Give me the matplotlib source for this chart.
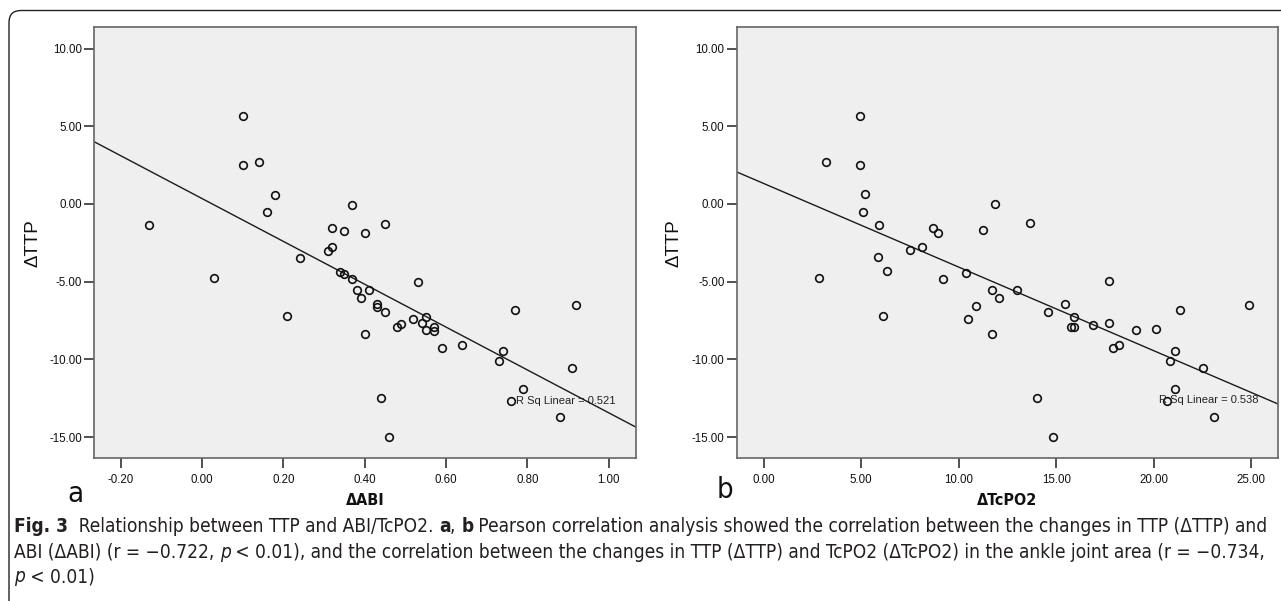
import numpy as np
import matplotlib
matplotlib.use('Agg')
import matplotlib.pyplot as plt
from matplotlib.patches import FancyBboxPatch
from matplotlib.transforms import IdentityTransform
from matplotlib.ticker import FormatStrFormatter

# panel a: change in ABI vs change in TTP
d_abi = [-0.13, 0.10, 0.10, 0.14, 0.18, 0.16, 0.37, 0.45, 0.32, 0.35, 0.40, 0.32,
         0.31, 0.24, 0.03, 0.34, 0.35, 0.37, 0.53, 0.38, 0.41, 0.39, 0.43, 0.43,
         0.45, 0.21, 0.52, 0.55, 0.54, 0.57, 0.49, 0.48, 0.55, 0.57, 0.40, 0.59,
         0.64, 0.74, 0.73, 0.77, 0.92, 0.91, 0.79, 0.44, 0.76, 0.88, 0.46]
d_ttp_a = [-1.37, 5.67, 2.51, 2.68, 0.60, -0.54, -0.06, -1.27, -1.55, -1.72, -1.89, -2.77,
           -3.00, -3.45, -4.76, -4.36, -4.51, -4.83, -5.00, -5.54, -5.51, -6.05, -6.46, -6.61,
           -6.95, -7.19, -7.38, -7.30, -7.68, -7.90, -7.73, -7.90, -8.09, -8.18, -8.35, -9.29,
           -9.10, -9.46, -10.11, -6.82, -6.48, -10.58, -11.93, -12.51, -12.68, -13.69, -15.00]

# panel b: change in TcPO2 vs change in TTP
d_tcpo2 = [4.92, 3.20, 4.96, 5.17, 5.09, 5.90, 11.87, 13.67, 8.69, 8.94, 11.26, 7.50,
           8.14, 5.86, 6.30, 2.85, 9.21, 10.39, 17.71, 11.70, 12.98, 12.04, 10.89, 14.59,
           6.13, 10.47, 15.47, 15.89, 15.75, 15.89, 16.86, 17.71, 19.10, 20.12, 11.70, 17.92,
           18.22, 21.11, 20.85, 21.36, 24.90, 22.51, 21.11, 14.01, 20.69, 23.10, 14.85]
d_ttp_b = [5.69, 2.70, 2.53, 0.62, -0.52, -1.35, -0.02, -1.24, -1.52, -1.85, -1.67, -2.96,
           -2.75, -3.43, -4.31, -4.74, -4.81, -4.44, -4.98, -5.54, -5.52, -6.05, -6.59, -6.95,
           -7.19, -7.38, -6.44, -7.30, -7.90, -7.90, -7.77, -7.68, -8.13, -8.05, -8.35, -9.29,
           -9.08, -9.46, -10.11, -6.82, -6.48, -10.56, -11.93, -12.51, -12.68, -13.69, -15.00]

yticks = [-15, -10, -5, 0, 5, 10]
xticks_a = [-0.2, 0.0, 0.2, 0.4, 0.6, 0.8, 1.0]
xticks_b = [0, 5, 10, 15, 20, 25]
rsq_a = 'R Sq Linear = 0.521'
rsq_b = 'R Sq Linear = 0.538'

plt.rcParams['axes.unicode_minus'] = False
plt.rcParams['font.family'] = ['Liberation Sans', 'DejaVu Sans']
narrow = dict(family='DejaVu Sans', stretch='condensed')

fig = plt.figure(figsize=(12.81, 6.01), dpi=100)

# rounded frame round the whole figure (open to the right and bottom)
fig.patches.append(FancyBboxPatch((9, -60), 1400, 650.5, boxstyle='round,pad=0,rounding_size=12',
                                  transform=IdentityTransform(), fc='none', ec='#222', lw=1.0))

ax1 = fig.add_axes([0.0736, 0.2374, 0.4231, 0.7176])
ax2 = fig.add_axes([0.5753, 0.2374, 0.4221, 0.7176])


def panel(ax, x, y, xlim, xticks, xlabel, rsq, rsq_xy, ylab_x):
    x = np.asarray(x)
    y = np.asarray(y)
    ax.set_facecolor('#efefef')
    k, b = np.polyfit(x, y, 1)
    xs = np.array(xlim)
    ax.plot(xs, k * xs + b, color='#1a1a1a', lw=1.0, zorder=2)
    ax.plot(x, y, 'o', mfc='none', mec='#111111', ms=5.5, mew=1.2, zorder=3)
    ax.text(rsq_xy[0], rsq_xy[1], rsq, fontsize=8, color='#222', va='center', zorder=4)
    ax.set_xlim(xlim)
    ax.set_ylim(-16.37, 11.39)
    ax.set_xticks(xticks)
    ax.set_yticks(yticks)
    ax.xaxis.set_major_formatter(FormatStrFormatter('%.2f'))
    ax.yaxis.set_major_formatter(FormatStrFormatter('%.2f'))
    ax.tick_params(axis='both', direction='out', length=7.5, width=1.2, color='#333',
                   labelsize=8.3, labelcolor='#111')
    ax.tick_params(axis='x', pad=3.5)
    ax.tick_params(axis='y', pad=1.5)
    for s in ax.spines.values():
        s.set_color('#666')
        s.set_linewidth(1.2)
    ax.set_ylabel('\u0394TTP', fontsize=13.5, color='#111')
    ax.yaxis.set_label_coords(ylab_x, 0.5)
    ax.yaxis.label.set_va('center')
    ax.set_xlabel(xlabel, fontsize=11.5, color='#111', weight='bold', **narrow)
    ax.xaxis.set_label_coords(0.5, -0.097)
    ax.xaxis.label.set_va('center')


panel(ax1, d_abi, d_ttp_a, (-0.265, 1.068), xticks_a, '\u0394ABI', rsq_a, (0.771, -12.66), -0.113)
panel(ax2, d_tcpo2, d_ttp_b, (-1.37, 26.35), xticks_b, '\u0394TcPO2', rsq_b, (20.25, -12.64), -0.1165)

fig.text(75 / 1281, 1 - 494 / 601, 'a', fontsize=21, ha='center', va='center', color='#111', **narrow)
fig.text(725 / 1281, 1 - 490 / 601, 'b', fontsize=21, ha='center', va='center', color='#111', **narrow)

# caption, drawn run by run so bold / italic parts sit inline
cap_lines = [
    [('Fig. 3', 'bold', 'normal'), ('  Relationship between TTP and ABI/TcPO2. ', 'normal', 'normal'),
     ('a', 'bold', 'normal'), (', ', 'normal', 'normal'), ('b', 'bold', 'normal'),
     (' Pearson correlation analysis showed the correlation between the changes in TTP (\u0394TTP) and',
      'normal', 'normal')],
    [('ABI (\u0394ABI) (r = \u22120.722, ', 'normal', 'normal'), ('p', 'normal', 'italic'),
     (' < 0.01), and the correlation between the changes in TTP (\u0394TTP) and TcPO2 (\u0394TcPO2)'
      ' in the ankle joint area (r = \u22120.734,', 'normal', 'normal')],
    [('p', 'normal', 'italic'), (' < 0.01)', 'normal', 'normal')],
]
cap_y = [527, 552, 577]


def draw_line(runs, x0, ytop, fs):
    r = fig.canvas.get_renderer()
    x = x0
    arts = []
    for s, w, st in runs:
        t = fig.text(x, 601 - ytop, s, transform=IdentityTransform(), fontsize=fs, weight=w,
                     style=st, color='#231f20', va='center', **narrow)
        arts.append(t)
        x += t.get_window_extent(r).width
    return x - x0, arts


w, arts = draw_line(cap_lines[0], 14, cap_y[0], 11)
for a in arts:
    a.remove()
fs = 11 * 1255 / w
for runs, yy in zip(cap_lines, cap_y):
    draw_line(runs, 14, yy, fs)

fig.savefig('out.png', dpi=100, facecolor='white')
